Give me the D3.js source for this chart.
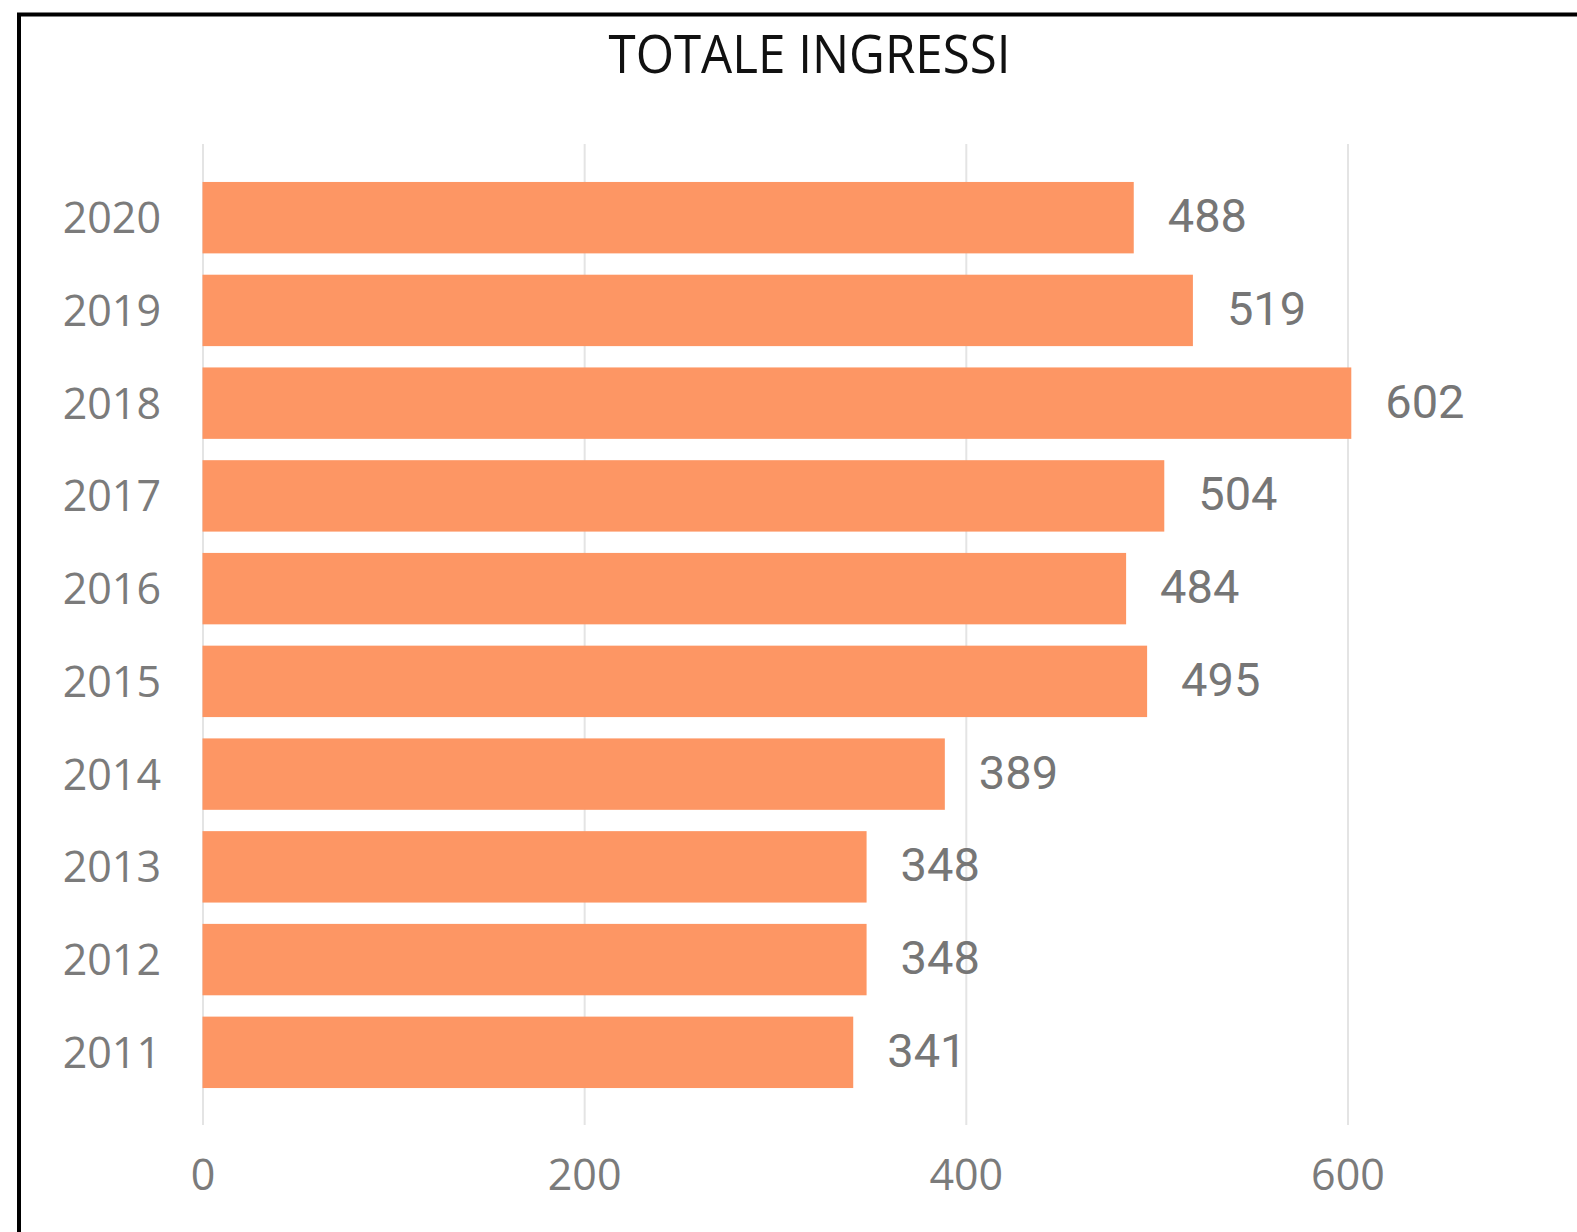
<!DOCTYPE html>
<html>
<head>
<meta charset="utf-8">
<script src="https://cdn.jsdelivr.net/npm/d3@7"></script>
<style>
  html, body { margin: 0; padding: 0; background: #ffffff; }
  svg { display: block; }
</style>
</head>
<body>
<svg id="chart" width="1577" height="1232"></svg>
<script>
const years  = ["2020", "2019", "2018", "2017", "2016", "2015", "2014", "2013", "2012", "2011"];
const values = [488, 519, 602, 504, 484, 495, 389, 348, 348, 341];
const xTicks = [0, 200, 400, 600];
const title  = "TOTALE INGRESSI";

const svg = d3.select("#chart");
const W = 1577, H = 1232;

svg.append("rect").attr("width", W).attr("height", H).attr("fill", "#ffffff");

// frame (only top and left edges visible)
svg.append("path")
  .attr("d", `M19,${H + 10} L19,14.5 L${W + 10},14.5`)
  .attr("fill", "none")
  .attr("stroke", "#000")
  .attr("stroke-width", 4);

// title
svg.append("text")
  .attr("x", 809.5)
  .attr("y", 73)
  .attr("text-anchor", "middle")
  .attr("font-family", "'Open Sans', 'Noto Sans', sans-serif")
  .attr("font-size", 53)
  .attr("fill", "#111111")
  .attr("textLength", 402)
  .attr("lengthAdjust", "spacingAndGlyphs")
  .text(title);

const x = d3.scaleLinear().domain([0, 700]).range([202.5, 202.5 + 700 * 1.9083]);
const y = d3.scaleBand().domain(years).range([171.3, 1098.7]).paddingInner(0.23).paddingOuter(0.115);

const gridTop = 144, gridBottom = 1125;

// gridlines + x tick labels
const xAxis = d3.axisBottom(x).tickValues(xTicks).tickSize(-(gridBottom - gridTop)).tickPadding(34).tickFormat(d3.format("d"));
const gx = svg.append("g").attr("transform", `translate(0,${gridBottom})`).call(xAxis);
gx.select(".domain").remove();
gx.selectAll(".tick line").attr("stroke", "#e4e4e4").attr("stroke-width", 2);
gx.selectAll(".tick text")
  .attr("font-family", "'Open Sans', 'Noto Sans', sans-serif")
  .attr("font-size", 43)
  .attr("fill", "#7b7b7b");

// bars
svg.append("g").selectAll("rect")
  .data(years.map((yr, i) => ({ yr, v: values[i] })))
  .join("rect")
  .attr("x", x(0))
  .attr("y", d => y(d.yr))
  .attr("width", d => x(d.v) - x(0))
  .attr("height", y.bandwidth())
  .attr("fill", "#FD9664");

// y axis labels
const yAxis = d3.axisLeft(y).tickSize(0).tickPadding(41.5);
const gy = svg.append("g").attr("transform", `translate(${x(0)},0)`).call(yAxis);
gy.select(".domain").remove();
gy.selectAll(".tick text")
  .attr("dy", "0.36em")
  .attr("font-family", "'Open Sans', 'Noto Sans', sans-serif")
  .attr("font-size", 43)
  .attr("fill", "#7b7b7b");

// value labels
svg.append("g").selectAll("text")
  .data(years.map((yr, i) => ({ yr, v: values[i] })))
  .join("text")
  .attr("x", d => x(d.v) + 34)
  .attr("y", d => y(d.yr) + y.bandwidth() / 2 + 14.5)
  .attr("font-family", "Roboto, 'Noto Sans', sans-serif")
  .attr("font-size", 47)
  .attr("fill", "#767676")
  .text(d => d.v);
</script>
</body>
</html>
